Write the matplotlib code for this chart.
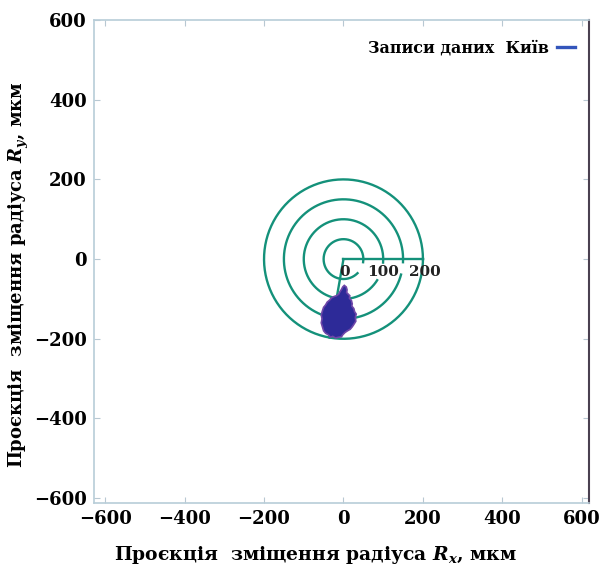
import numpy as np
import matplotlib
matplotlib.use("Agg")
import matplotlib.pyplot as plt

plt.rcParams['font.family'] = ['DejaVu Serif']
plt.rcParams['font.weight'] = 'bold'
plt.rcParams['mathtext.fontset'] = 'custom'
plt.rcParams['mathtext.it'] = 'DejaVu Serif:italic:bold'
plt.rcParams['mathtext.rm'] = 'DejaVu Serif:bold'

# target rings: radius and the arc span (degrees, counter-clockwise)
ring_r = [50, 100, 150, 200]
ring_start = [-9, -5, -3, 0]
ring_end = [315, 328, 345, 360]
ring_labels = ["0", "100", "200"]
ring_label_x = [2, 100, 205]
spoke_angle = -100

blob_x = [2, 7, 9, 8, 12, 16, 15, 20, 22, 21, 26, 28, 32, 30, 31, 26, 22, 17, 10, 4, -2, -5,
          -12, -20, -27, -33, -38, -45, -50,
          -53, -56, -54, -56, -53, -50, -45, -41, -35, -30, -24, -18, -12, -9, -5, -2]
blob_y = [-66, -70, -77, -84, -88, -92, -98, -104, -112, -118, -124, -132, -138, -146, -156, -164, -170, -176, -180, -184, -190, -195,
          -196, -198, -194, -196, -190, -186, -180,
          -170, -160, -150, -140, -130, -121, -115, -108, -103, -97, -94, -92, -88, -82, -76, -70]

ticks = [-600, -400, -200, 0, 200, 400, 600]

fig = plt.figure(figsize=(6.12, 5.73), dpi=100)
ax = fig.add_axes([0.1536, 0.1222, 0.8088, 0.8429])

ring_color = '#14917a'
for r, a0, a1 in zip(ring_r, ring_start, ring_end):
    t = np.radians(np.linspace(a0, a1, 300))
    ax.plot(r * np.cos(t), r * np.sin(t), color=ring_color, lw=1.7)

# scale line and spoke
ax.plot([0, ring_r[-1]], [0, 0], color=ring_color, lw=1.7)
sa = np.radians(spoke_angle)
ax.plot([0, ring_r[-1] * np.cos(sa)], [0, ring_r[-1] * np.sin(sa)], color=ring_color, lw=1.7)

for lab, lx in zip(ring_labels, ring_label_x):
    ax.text(lx, -32, lab, ha='center', va='center', fontsize=11, fontweight='bold', color='#222222')

ax.fill(blob_x, blob_y, color='#2d2a98', ec='#6e46a8', lw=1.2, zorder=3)

# legend entry (line after text)
ax.plot([], [], color='#3355bb', lw=2.4, label='Записи даних  Київ')
ax.legend(loc='upper right', bbox_to_anchor=(1.0, 0.99), frameon=False,
          markerfirst=False, handlelength=1.1, handletextpad=0.5,
          prop={'weight': 'bold', 'size': 11.5})

ax.set_xlim(-628, 618)
ax.set_ylim(-612, 600)
ax.set_xticks(ticks)
ax.set_yticks(ticks)
ax.set_xticklabels([str(t).replace('-', '\u2212') for t in ticks])
ax.set_yticklabels([str(t).replace('-', '\u2212') for t in ticks])
ax.tick_params(direction='in', length=4, color='#b8c8d2', labelsize=13, pad=5,
               top=True, right=True)
for lab in ax.get_xticklabels() + ax.get_yticklabels():
    lab.set_fontweight('bold')

for side in ['left', 'top', 'bottom']:
    ax.spines[side].set_color('#b8cdd8')
    ax.spines[side].set_linewidth(1.2)
ax.spines['right'].set_color('#4a4050')
ax.spines['right'].set_linewidth(1.5)

ax.set_xlabel('Проєкція  зміщення радіуса $R_x$, мкм', fontsize=13.5, fontweight='bold')
ax.set_ylabel('Проєкція  зміщення радіуса $R_y$, мкм', fontsize=13, fontweight='bold')
ax.xaxis.set_label_coords(0.448, -0.085)
ax.yaxis.set_label_coords(-0.128, 0.472)

fig.savefig('out.png', dpi=100)
